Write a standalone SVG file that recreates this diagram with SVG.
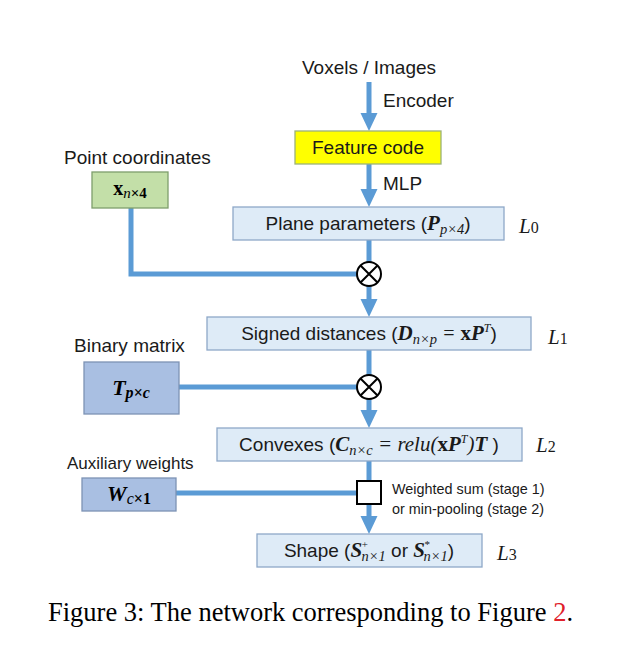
<svg xmlns="http://www.w3.org/2000/svg" width="644" height="646" viewBox="0 0 644 646">
<style>
.lbl{font-family:"Liberation Sans",Arial,sans-serif;font-size:19px;fill:#1a1a1a}
.sm{font-family:"Liberation Sans",Arial,sans-serif;font-size:14.4px;fill:#1a1a1a}
.m{font-family:"Liberation Serif","Times New Roman",serif;font-weight:bold;font-style:italic}
.mi{font-family:"Liberation Serif","Times New Roman",serif;font-style:italic}
.mb{font-family:"Liberation Serif","Times New Roman",serif;font-weight:bold}
.L{font-family:"Liberation Serif","Times New Roman",serif;font-size:21px;fill:#1a1a1a}
.box{fill:#DEEBF7;stroke:#8EA8C8;stroke-width:1.3}
.dbox{fill:#A9BFE2;stroke:#7D93B4;stroke-width:1.3}
.conn{fill:none;stroke:#5B9BD5;stroke-width:5}
.op{fill:#fff;stroke:#000;stroke-width:2}
</style>
<defs>
<marker id="ah" markerUnits="userSpaceOnUse" markerWidth="20" markerHeight="20" viewBox="0 -10 20 20" refX="2" refY="0" orient="auto">
<path d="M0,-8.5 L18,0 L0,8.5 z" fill="#5B9BD5"/>
</marker>
</defs>
<rect width="644" height="646" fill="#fff"/>
<g id="connectors">
<line class="conn" x1="369" y1="82" x2="369" y2="115" marker-end="url(#ah)"/>
<line class="conn" x1="369" y1="164" x2="369" y2="191" marker-end="url(#ah)"/>
<line class="conn" x1="369" y1="240" x2="369" y2="262"/>
<line class="conn" x1="369" y1="286" x2="369" y2="301" marker-end="url(#ah)"/>
<path class="conn" d="M131,208 V274 H357"/>
<line class="conn" x1="369" y1="350" x2="369" y2="375"/>
<line class="conn" x1="369" y1="399" x2="369" y2="412" marker-end="url(#ah)"/>
<path class="conn" d="M179,387 H357"/>
<line class="conn" x1="369" y1="461" x2="369" y2="481"/>
<line class="conn" x1="369" y1="504" x2="369" y2="518" marker-end="url(#ah)"/>
<path class="conn" d="M176,493 H357"/>
</g>
<g id="input">
<text class="lbl" x="369" y="74" text-anchor="middle">Voxels / Images</text>
<text class="lbl" x="383" y="107">Encoder</text>
</g>
<g id="feature">
<rect x="295" y="131" width="146" height="33" fill="#FFFF00" stroke="#9CB27A" stroke-width="1.3"/>
<text class="lbl" x="368" y="154" text-anchor="middle">Feature code</text>
<text class="lbl" x="383" y="190">MLP</text>
</g>
<g id="points">
<text class="lbl" x="64" y="164">Point coordinates</text>
<rect x="92" y="172" width="76" height="36" fill="#C3DFA8" stroke="#7E9E6C" stroke-width="1.3"/>
<text x="130" y="195" text-anchor="middle"><tspan class="mb" font-size="20">x</tspan><tspan class="mi" font-size="15" dy="3">n</tspan><tspan class="mb" font-size="15">×4</tspan></text>
</g>
<g id="plane">
<rect class="box" x="233" y="207" width="271" height="33"/>
<text class="lbl" x="368" y="230" text-anchor="middle">Plane parameters (<tspan class="m" font-size="21">P</tspan><tspan class="mi" font-size="14.5" dy="4">p×4</tspan><tspan dy="-4">)</tspan></text>
<text class="L" x="519" y="233"><tspan font-style="italic">L</tspan><tspan font-size="16">0</tspan></text>
</g>
<g id="op1"><circle class="op" cx="369" cy="274" r="12"/><path d="M360.5,265.5 L377.5,282.5 M377.5,265.5 L360.5,282.5" stroke="#000" stroke-width="2"/></g>
<g id="signed">
<rect class="box" x="207" y="317" width="324" height="33"/>
<text class="lbl" x="369" y="340" text-anchor="middle">Signed distances (<tspan class="m" font-size="21">D</tspan><tspan class="mi" font-size="14.5" dy="4">n×p</tspan><tspan class="mi" font-size="20" dy="-4"> = </tspan><tspan class="mb" font-size="21">x</tspan><tspan class="m" font-size="21">P</tspan><tspan class="mi" font-size="12" dy="-8">T</tspan><tspan dy="8">)</tspan></text>
<text class="L" x="548" y="344"><tspan font-style="italic">L</tspan><tspan font-size="16">1</tspan></text>
</g>
<g id="binary">
<text class="lbl" x="74" y="352">Binary matrix</text>
<rect class="dbox" x="84" y="362" width="95" height="52"/>
<text x="131" y="395" text-anchor="middle"><tspan class="m" font-size="22">T</tspan><tspan class="m" font-size="16" dy="3">p×c</tspan></text>
</g>
<g id="op2"><circle class="op" cx="369" cy="387" r="12"/><path d="M360.5,378.5 L377.5,395.5 M377.5,378.5 L360.5,395.5" stroke="#000" stroke-width="2"/></g>
<g id="convexes">
<rect class="box" x="217" y="428" width="305" height="33"/>
<text class="lbl" x="369" y="451" text-anchor="middle">Convexes (<tspan class="m" font-size="21">C</tspan><tspan class="mi" font-size="14.5" dy="4">n×c</tspan><tspan class="mi" font-size="21" dy="-4"> = relu(</tspan><tspan class="mb" font-size="21">x</tspan><tspan class="m" font-size="21">P</tspan><tspan class="mi" font-size="12" dy="-8">T</tspan><tspan class="mi" font-size="21" dy="8">)</tspan><tspan class="m" font-size="21">T</tspan> )</text>
<text class="L" x="536" y="452"><tspan font-style="italic">L</tspan><tspan font-size="16">2</tspan></text>
</g>
<g id="aux">
<text class="lbl" x="67" y="469" style="font-size:17px">Auxiliary weights</text>
<rect class="dbox" x="82" y="478" width="94" height="33"/>
<text x="129" y="501" text-anchor="middle"><tspan class="m" font-size="22">W</tspan><tspan class="mi" font-size="16" dy="3">c</tspan><tspan class="mb" font-size="16">×1</tspan></text>
</g>
<g id="op3">
<rect class="op" x="357" y="481" width="24" height="23"/>
<text class="sm" x="392" y="494">Weighted sum (stage 1)</text>
<text class="sm" x="392" y="514">or min-pooling (stage 2)</text>
</g>
<g id="shape">
<rect class="box" x="257" y="534" width="225" height="33"/>
<text class="lbl" x="369" y="557" text-anchor="middle">Shape (<tspan class="m" font-size="21">S</tspan><tspan class="mi" font-size="11" dx="-1" dy="-9">+</tspan><tspan class="mi" font-size="14.5" dx="-7" dy="13">n×1</tspan><tspan dy="-4"> or </tspan><tspan class="m" font-size="21">S</tspan><tspan class="mi" font-size="11" dx="-1" dy="-9">*</tspan><tspan class="mi" font-size="14.5" dx="-6" dy="13">n×1</tspan><tspan dy="-4">)</tspan></text>
<text class="L" x="497" y="560"><tspan font-style="italic">L</tspan><tspan font-size="16">3</tspan></text>
</g>
<g id="caption">
<text x="48" y="621" font-family="Liberation Serif,'Times New Roman',serif" font-size="26.5" fill="#000">Figure 3: The network corresponding to Figure <tspan fill="#E0202A">2</tspan>.</text>
</g>
</svg>
